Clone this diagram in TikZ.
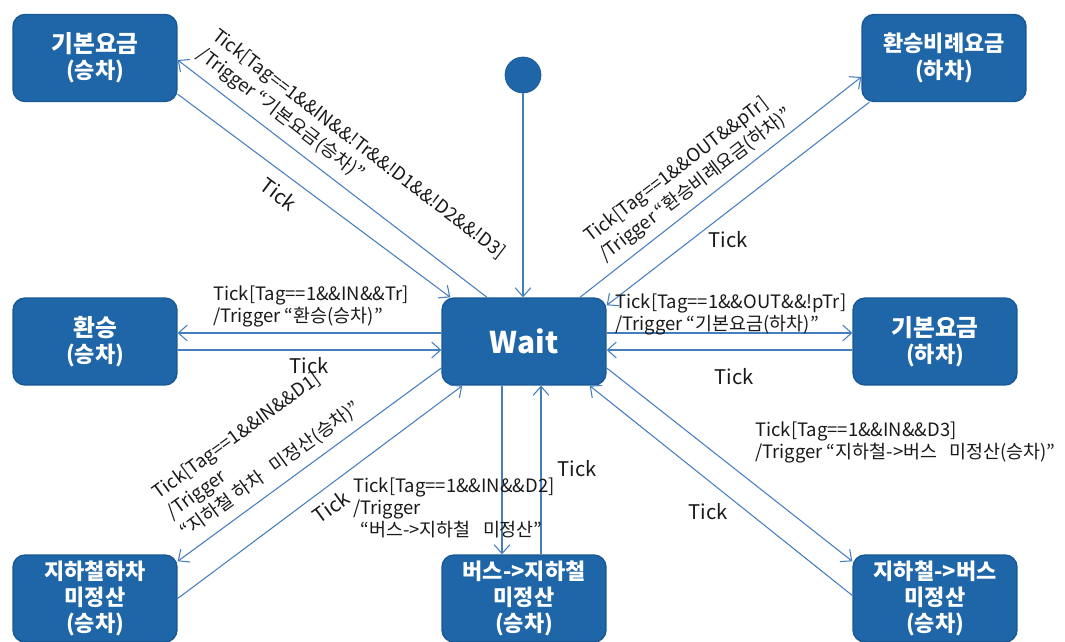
\documentclass[tikz,border=0pt]{standalone}
\usepackage{fontspec}
\setmainfont{Noto Sans CJK KR}
\usetikzlibrary{arrows.meta,calc}
\definecolor{statefill}{RGB}{30,102,168}
\definecolor{stateedge}{RGB}{24,88,148}
\definecolor{wire}{RGB}{68,126,190}
\definecolor{guardtext}{RGB}{25,25,25}

\begin{document}
\begin{tikzpicture}[x=0.02cm, y=-0.02cm, >={Straight Barb[length=5pt,width=9pt]},
    state/.style={rectangle, rounded corners=0.24cm, draw=stateedge, line width=0.8pt, fill=statefill, text=white, font=\fontsize{12.5}{15}\selectfont\bfseries, minimum width=3.28cm, minimum height=1.74cm, align=center, inner sep=0pt},
    start/.style={circle, draw=stateedge, fill=statefill, minimum size=0.72cm, inner sep=0pt},
    arrow/.style={->, wire, line width=0.6pt},
    guard/.style={font=\fontsize{10.5}{12.5}\selectfont, text=guardtext, align=left, inner sep=0pt},
    slantguard/.style={guard, font=\fontsize{10.5}{13.5}\selectfont},
    tick/.style={font=\fontsize{11.5}{13}\selectfont, text=guardtext, inner sep=0pt}]

    \useasboundingbox (0,0) rectangle (1065,642);

    % States
    \node[state] (wait) at (524,341.5) {\fontsize{17}{20}\selectfont Wait};
    \node[start] (init) at (523,75) {};
    \node[state] (basein) at (95,58) {\fontsize{13.5}{16}\selectfont 기본요금\\(승차)};
    \node[state] (transout) at (944,58) {환승비례요금\\(하차)};
    \node[state] (transin) at (95,341.5) {\fontsize{13.5}{16}\selectfont 환승\\(승차)};
    \node[state] (baseout) at (935,341.5) {\fontsize{13.5}{16}\selectfont 기본요금\\(하차)};
    \node[state] (subway) at (95,598.5) {지하철하차\\미정산\\(승차)};
    \node[state] (bus2sub) at (524,598.5) {버스->지하철\\미정산\\(승차)};
    \node[state] (sub2bus) at (935,598.5) {지하철->버스\\미정산\\(승차)};

    % Initial transition
    \draw[arrow] (init) -- (init |- wait.north);

    % Upper left: basic fare (boarding)
    \draw[arrow] ($(wait.north)+(-37,0)$) -- ($(basein.east)+(0,2)$);
    \draw[arrow] ($(basein.south east)+(0,-8)$) -- ($(wait.north west)+(9,0)$);

    % Upper right: proportional transfer fare (alighting)
    \draw[arrow] ($(wait.north)+(56,0)$) -- ($(transout.west)+(0,19)$);
    \draw[arrow] ($(transout.south west)+(8,0)$) -- ($(wait.north east)+(0,8)$);

    % Left: transfer (boarding)
    \draw[arrow] ($(wait.west)+(0,-8.5)$) -- ($(transin.east)+(0,-8.5)$);
    \draw[arrow] ($(transin.east)+(0,8.5)$) -- ($(wait.west)+(0,8.5)$);

    % Right: basic fare (alighting)
    \draw[arrow] ($(wait.east)+(0,-8.5)$) -- ($(baseout.west)+(0,-8.5)$);
    \draw[arrow] ($(baseout.west)+(0,8.5)$) -- ($(wait.east)+(0,8.5)$);

    % Lower left: subway unsettled
    \draw[arrow] ($(wait.west)+(0,26.5)$) -- ($(subway.north east)+(0,7)$);
    \draw[arrow] (subway.east) -- ($(wait.south west)+(21,0)$);

    % Bottom: bus -> subway
    \draw[arrow] ($(wait.south)+(-22,0)$) -- ($(bus2sub.north)+(-22,0)$);
    \draw[arrow] ($(bus2sub.north)+(17,0)$) -- ($(wait.south)+(17,0)$);

    % Lower right: subway -> bus
    \draw[arrow] ($(wait.east)+(0,26.5)$) -- ($(sub2bus.north west)+(0,7)$);
    \draw[arrow] ($(sub2bus.west)+(0,-3)$) -- ($(wait.south east)+(-17,0)$);

    % Guards and triggers
    \node[slantguard, rotate=-37.5] (gbasein) at (351,154) {Tick[Tag==1\&\&IN\&\&!Tr\&\&!D1\&\&!D2\&\&!D3]\\/Trigger “기본요금(승차)”};
    \node[tick, rotate=-37] (tbasein) at (279,194) {Tick};
    \node[slantguard, rotate=37.5] (gtransout) at (689,176) {Tick[Tag==1\&\&OUT\&\&pTr]\\/Trigger “환승비례요금(하차)”};
    \node[tick] (ttransout) at (728,240) {Tick};
    \node[guard, anchor=west] (gtransin) at (213,306) {Tick[Tag==1\&\&IN\&\&Tr]\\/Trigger “환승(승차)”};
    \node[tick] (ttransin) at (309,366) {Tick};
    \node[guard, anchor=west] (gbaseout) at (615,314) {Tick[Tag==1\&\&OUT\&\&!pTr]\\/Trigger “기본요금(하차)”};
    \node[tick] (tbaseout) at (734,377) {Tick};
    \node[slantguard, rotate=36] (gsubway) at (257,451) {Tick[Tag==1\&\&IN\&\&D1]\\/Trigger\\“지하철 하차~~~미정산(승차)”};
    \node[tick, rotate=36] (tsubway) at (331,507) {Tick};
    \node[guard, anchor=west] (gbus2sub) at (353,508) {Tick[Tag==1\&\&IN\&\&D2]\\/Trigger\\\hspace{4pt}“버스->지하철~~~미정산”};
    \node[tick] (tbus2sub) at (577,469) {Tick};
    \node[guard, anchor=west] (gsub2bus) at (755,442.5) {Tick[Tag==1\&\&IN\&\&D3]\\/Trigger “지하철->버스~~~미정산(승차)”};
    \node[tick] (tsub2bus) at (708,512) {Tick};

\end{tikzpicture}
\end{document}
